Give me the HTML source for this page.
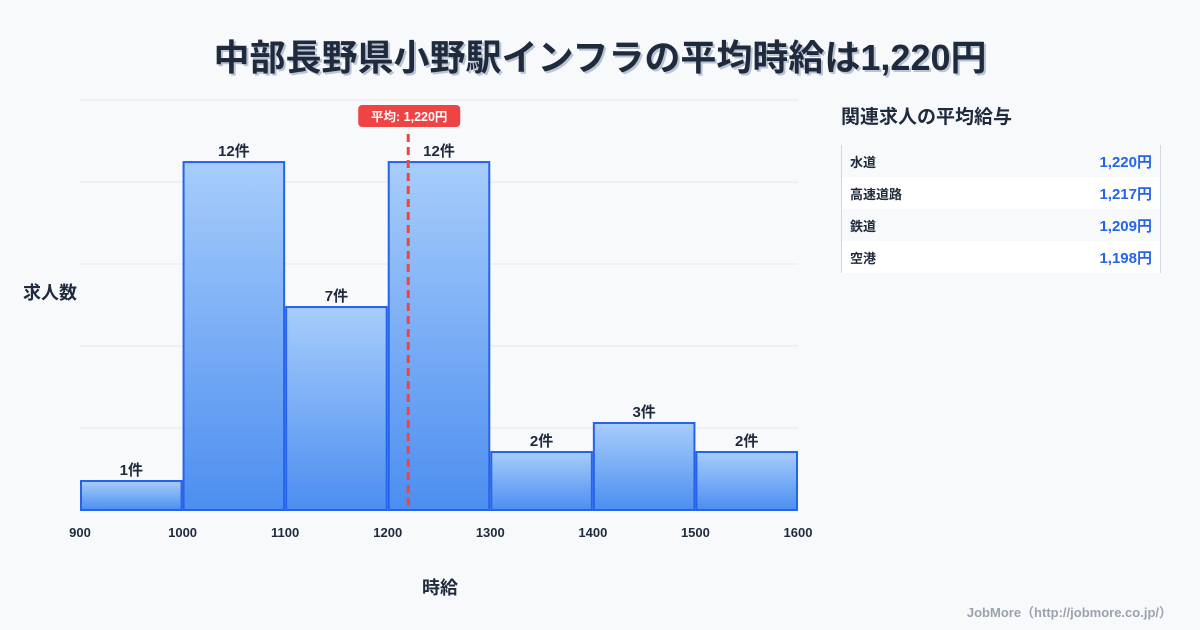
<!DOCTYPE html>
<html><head><meta charset="utf-8"><style>
body{margin:0;width:1200px;height:630px;background:#f8f9fb;font-family:"Liberation Sans","Noto Sans CJK JP",sans-serif;overflow:hidden;position:relative}
.title{position:absolute;left:0;width:1200px;top:29px;text-align:center;font-size:36px;font-weight:bold;color:#1f2a3c;text-shadow:2px 2px 0 #b8c4d6}
.side-title{position:absolute;left:841px;top:102px;font-size:19px;font-weight:bold;color:#1f2a3c}
.tbl{position:absolute;left:841px;top:145px;width:318px;border-left:1.5px solid #cfd8e3;border-right:1.5px solid #cfd8e3}
.row{height:32px;display:flex;justify-content:space-between;align-items:center;padding:0 8px;font-size:13px;font-weight:bold;color:#1f2a3c}
.row:nth-child(even){background:#fff}
.row span:last-child{color:#2563eb;font-size:15px}
.foot{position:absolute;right:28px;top:602px;font-size:13px;color:#9aa3ad;font-weight:bold}
</style></head><body>
<div class="title">中部長野県小野駅インフラの平均時給は1,220円</div>
<svg id="chart" width="820" height="630" style="position:absolute;left:0;top:0"></svg>
<div class="side-title">関連求人の平均給与</div>
<div class="tbl">
<div class="row"><span>水道</span><span>1,220円</span></div>
<div class="row"><span>高速道路</span><span>1,217円</span></div>
<div class="row"><span>鉄道</span><span>1,209円</span></div>
<div class="row"><span>空港</span><span>1,198円</span></div>
</div>
<div class="foot">JobMore（http://jobmore.co.jp/）</div>
<script>
const binStarts=[900,1000,1100,1200,1300,1400,1500];
const counts=[1,12,7,12,2,3,2];
const xTicks=[900,1000,1100,1200,1300,1400,1500,1600];
const meanValue=1220;
const meanLabel="平均: 1,220円";
const NS="http://www.w3.org/2000/svg";
const svg=document.getElementById('chart');
const x0=80,x1=798,yb=510,yt=100,xmin=900,xmax=1600,ymax=14.14;
const X=v=>x0+(v-xmin)/(xmax-xmin)*(x1-x0);
const Y=v=>yb-v/ymax*(yb-yt);
function el(t,a,txt){const e=document.createElementNS(NS,t);for(const k in a)e.setAttribute(k,a[k]);if(txt!=null)e.textContent=txt;svg.appendChild(e);return e;}
const defs=document.createElementNS(NS,'defs');
defs.innerHTML='<linearGradient id="g" x1="0" y1="0" x2="0" y2="1"><stop offset="0" stop-color="#a7cdfb"/><stop offset="1" stop-color="#4c8ef0"/></linearGradient>';
svg.appendChild(defs);
for(let i=0;i<=5;i++){const y=yb-i*(yb-yt)/5;
const g=el('line',{x1:x0,x2:x1,y1:y,y2:y,stroke:'#e3e7ec','stroke-width':1});

}
binStarts.forEach((b,i)=>{
const r=el('rect',{x:X(b)+1,y:Y(counts[i]),width:X(b+100)-X(b)-2,height:yb-Y(counts[i]),fill:'url(#g)',stroke:'#2563eb','stroke-width':2});


const t=el('text',{x:(X(b)+X(b+100))/2,y:Y(counts[i])-6,'text-anchor':'middle','font-size':15,'font-weight':'bold',fill:'#1f2a3c'},counts[i]+'件');


});
xTicks.forEach(v=>{const t=el('text',{x:X(v),y:537,'text-anchor':'middle','font-size':13,'font-weight':'bold',fill:'#1f2a3c'},v);

});
const mx=X(meanValue);
const ml=el('line',{x1:mx,x2:mx,y1:134,y2:yb,stroke:'#ef4444','stroke-width':3,'stroke-dasharray':'8,5'});


const mb=el('rect',{x:mx-50,y:105,width:102,height:22,rx:4,fill:'#ef4444'});


const mt=el('text',{x:mx+1,y:121,'text-anchor':'middle','font-size':12.5,'font-weight':'bold',fill:'#fff'},meanLabel);


const yt2=el('text',{x:50,y:299,'text-anchor':'middle','font-size':18,'font-weight':'bold',fill:'#1f2a3c'},'求人数');


const xt=el('text',{x:440,y:594,'text-anchor':'middle','font-size':18,'font-weight':'bold',fill:'#1f2a3c'},'時給');


</script>
</body></html>
